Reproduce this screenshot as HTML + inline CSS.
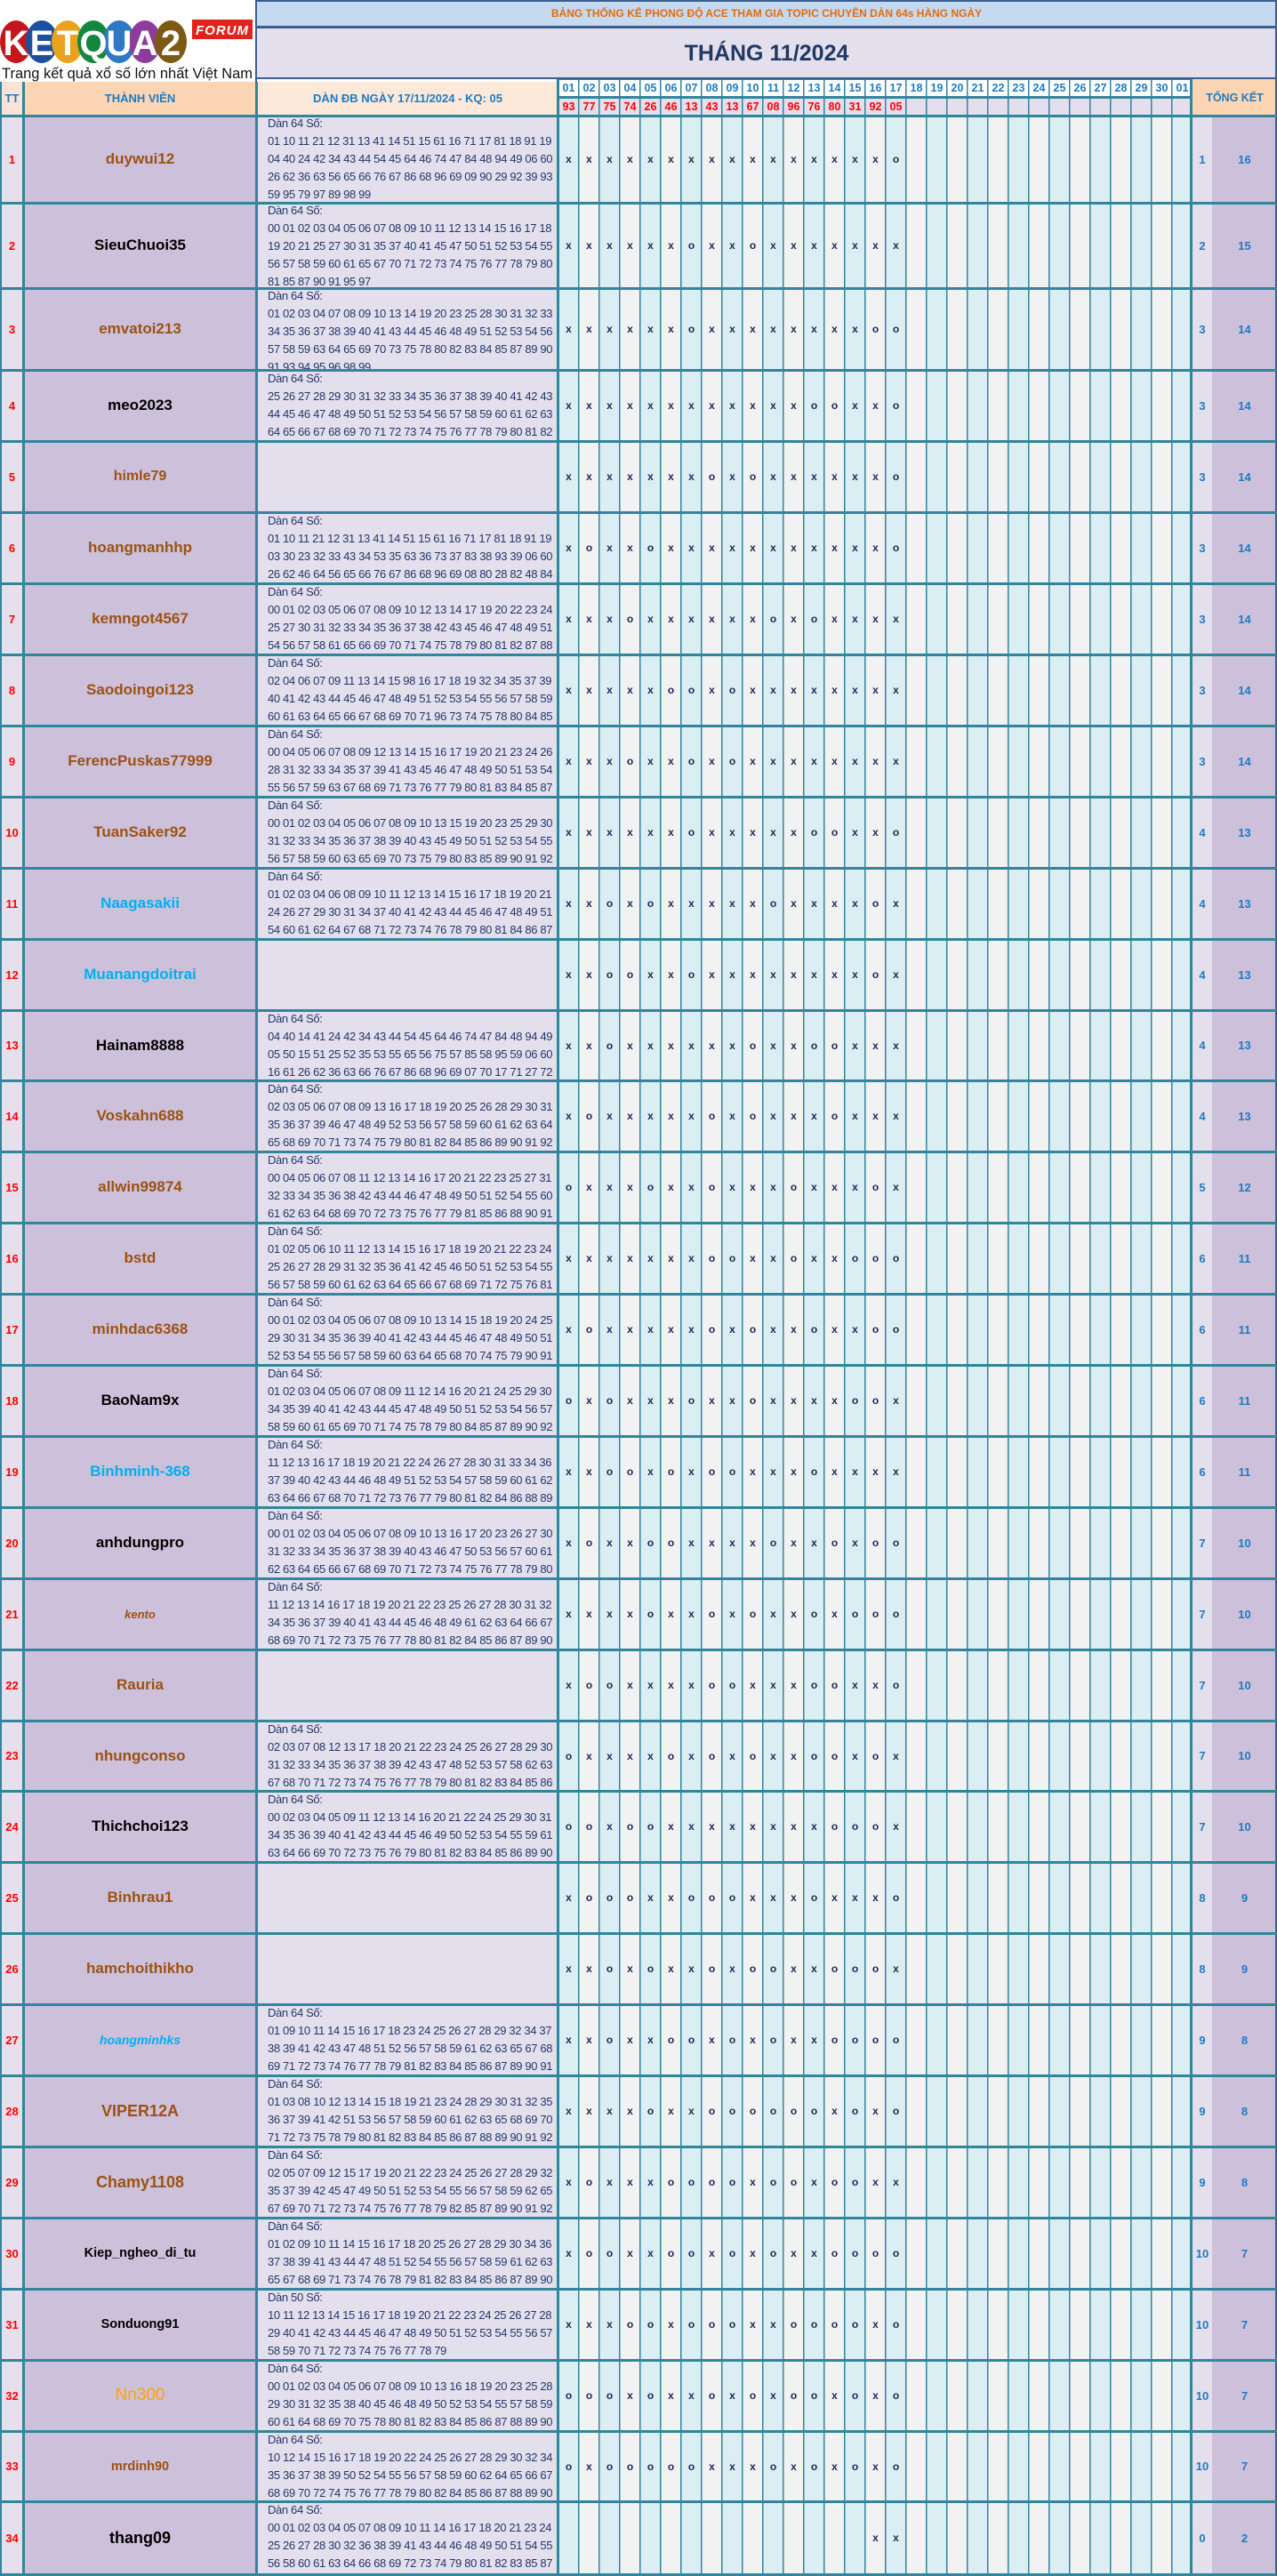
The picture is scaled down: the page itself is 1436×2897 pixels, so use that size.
<!DOCTYPE html>
<html><head><meta charset="utf-8">
<style>
*{box-sizing:border-box;margin:0;padding:0}
body{width:1436px;height:2897px;overflow:hidden;background:#fff;font-family:"Liberation Sans",Arial,sans-serif;position:relative}
.a{position:absolute}
.r{position:absolute;left:0;width:1436px}
.r>div{position:absolute;top:0;bottom:0}
.t{left:0;width:27px;display:flex;align-items:center;justify-content:center;color:#f00;font-weight:700;font-size:13px}
.n{left:28px;width:259px;display:flex;align-items:center;justify-content:center;font-weight:700;font-size:17px;color:#9c5212;white-space:nowrap}
.n.b{color:#000}.n.c{color:#00b0f0}
.d{left:301px;width:327px;overflow:hidden;font-size:13px;line-height:20px;letter-spacing:-0.35px;color:#22386b;white-space:nowrap}
.x{left:628px;width:713px;display:flex;align-items:center}
.x b{display:block;width:23px;text-align:center;font-weight:700;font-size:12px;color:#1b2a56}
.k{left:1341px;width:22px;display:flex;align-items:center;justify-content:center;color:#1f7bc1;font-weight:700;font-size:13px}
.s{left:1363px;width:73px;display:flex;align-items:center;justify-content:center;color:#1f7bc1;font-weight:700;font-size:13px}
.hl{position:absolute;left:0;width:1436px;height:3px;background:#31859c}
.dh{display:flex;position:absolute;left:628px;width:713px}
.dh span{display:block;width:23px;text-align:center;font-weight:700;font-size:12.5px}
</style></head><body>

<!-- backgrounds -->
<div class="a" style="left:0;top:92px;width:27px;height:38px;background:#fbe4d6"></div>
<div class="a" style="left:27px;top:92px;width:261px;height:38px;background:#fcd5b4"></div>
<div class="a" style="left:288px;top:92px;width:340px;height:38px;background:#fde9d9"></div>
<div class="a" style="left:628px;top:88px;width:713px;height:21px;background:#fff"></div>
<div class="a" style="left:628px;top:109px;width:713px;height:21px;background:#e4dfec"></div>
<div class="a" style="left:1341px;top:88px;width:95px;height:42px;background:#fcd5b4"></div>
<div class="a" style="left:0;top:130px;width:27px;height:2767px;background:#e6e0ec"></div>
<div class="a" style="left:27px;top:130px;width:261px;height:2767px;background:#ccc0da"></div>
<div class="a" style="left:288px;top:130px;width:340px;height:2767px;background:#e4dfec"></div>
<div class="a" style="left:628px;top:130px;width:713px;height:2767px;background:repeating-linear-gradient(90deg,#daeef3 0 23px,#f2f2f2 23px 46px)"></div>
<div class="a" style="left:1341px;top:130px;width:22px;height:2767px;background:#e4dfec"></div>
<div class="a" style="left:1363px;top:130px;width:73px;height:2767px;background:#ccc0da"></div>

<!-- banner & title -->
<div class="a" style="left:288px;top:0;width:1148px;height:30px;background:#c5d9f1"></div>
<div class="a" style="left:288px;top:30px;width:1148px;height:58px;background:#e4dfec"></div>
<div class="a" style="left:290px;top:0;width:1144px;height:29px;line-height:30px;text-align:center;color:#e46c0a;font-weight:700;font-size:12px">BẢNG THỐNG KÊ PHONG ĐỘ ACE THAM GIA TOPIC CHUYÊN DÀN 64s HÀNG NGÀY</div>
<div class="a" style="left:290px;top:32px;width:1144px;height:56px;line-height:56px;text-align:center;color:#1f3864;font-weight:700;font-size:25px">THÁNG 11/2024</div>

<!-- logo -->
<svg class="a" style="left:0;top:0" width="288" height="92" viewBox="0 0 288 92">
<rect width="288" height="92" fill="#fff"/>
<ellipse cx="18" cy="47" rx="18" ry="24" fill="#c4161c"/>
<ellipse cx="47" cy="47" rx="18" ry="24" fill="#1d4f9f"/>
<ellipse cx="76" cy="47" rx="18" ry="24" fill="#e9a21d"/>
<ellipse cx="105" cy="47" rx="18" ry="24" fill="#13883c"/>
<ellipse cx="134" cy="47" rx="18" ry="24" fill="#2f78c4"/>
<ellipse cx="163" cy="47" rx="18" ry="24" fill="#8e3b9e"/>
<ellipse cx="192" cy="47" rx="18" ry="24" fill="#7d5a14"/>
<g fill="#fff" font-family="Liberation Sans,Arial,sans-serif" font-weight="700" font-size="40" text-anchor="middle">
<text x="18" y="62">K</text><text x="47" y="62">E</text><text x="76" y="62">T</text><text x="105" y="62">Q</text><text x="134" y="62">U</text><text x="163" y="62">A</text><text x="192" y="62">2</text>
</g>
<rect x="216" y="22" width="68" height="22" fill="#e2231a"/>
<text x="250" y="39" fill="#fff" font-family="Liberation Sans,Arial,sans-serif" font-weight="700" font-style="italic" font-size="15" text-anchor="middle" letter-spacing="1">FORUM</text>
<text x="2" y="88" fill="#111" font-family="Liberation Sans,Arial,sans-serif" font-size="17" textLength="282" lengthAdjust="spacingAndGlyphs">Trang kết quả xổ số lớn nhất Việt Nam</text>
</svg>

<!-- header row texts -->
<div class="a" style="left:0;top:92px;width:27px;height:38px;line-height:38px;text-align:center;color:#1f7bc1;font-weight:700;font-size:13px">TT</div>
<div class="a" style="left:28px;top:92px;width:259px;height:38px;line-height:38px;text-align:center;color:#1f7bc1;font-weight:700;font-size:13px">THÀNH VIÊN</div>
<div class="a" style="left:290px;top:92px;width:337px;height:38px;line-height:38px;text-align:center;color:#1f7bc1;font-weight:700;font-size:13px">DÀN ĐB NGÀY 17/11/2024 - KQ: 05</div>
<div class="a" style="left:1341px;top:88px;width:95px;height:42px;line-height:44px;text-align:center;color:#1f7bc1;font-weight:700;font-size:12.5px">TỔNG KẾT</div>
<div class="dh" style="top:88px;height:21px;line-height:22px;color:#1f7bc1"><span>01</span><span>02</span><span>03</span><span>04</span><span>05</span><span>06</span><span>07</span><span>08</span><span>09</span><span>10</span><span>11</span><span>12</span><span>13</span><span>14</span><span>15</span><span>16</span><span>17</span><span>18</span><span>19</span><span>20</span><span>21</span><span>22</span><span>23</span><span>24</span><span>25</span><span>26</span><span>27</span><span>28</span><span>29</span><span>30</span><span>01</span></div>
<div class="dh" style="top:109px;height:21px;line-height:23px;color:#f00"><span>93</span><span>77</span><span>75</span><span>74</span><span>26</span><span>46</span><span>13</span><span>43</span><span>13</span><span>67</span><span>08</span><span>96</span><span>76</span><span>80</span><span>31</span><span>92</span><span>05</span></div>

<!-- rows -->
<div class="r" style="top:130px;height:98px"><div class="t">1</div><div class="n">duywui12</div><div class="d" style="top:-1px">Dàn 64 Số:<br>01 10 11 21 12 31 13 41 14 51 15 61 16 71 17 81 18 91 19<br>04 40 24 42 34 43 44 54 45 64 46 74 47 84 48 94 49 06 60<br>26 62 36 63 56 65 66 76 67 86 68 96 69 09 90 29 92 39 93<br>59 95 79 97 89 98 99</div><div class="x"><b>x</b><b>x</b><b>x</b><b>x</b><b>x</b><b>x</b><b>x</b><b>x</b><b>x</b><b>x</b><b>x</b><b>x</b><b>x</b><b>x</b><b>x</b><b>x</b><b>o</b></div><div class="k">1</div><div class="s">16</div></div>

<div class="r" style="top:228px;height:96px"><div class="t">2</div><div class="n b">SieuChuoi35</div><div class="d" style="top:-1px">Dàn 64 Số:<br>00 01 02 03 04 05 06 07 08 09 10 11 12 13 14 15 16 17 18<br>19 20 21 25 27 30 31 35 37 40 41 45 47 50 51 52 53 54 55<br>56 57 58 59 60 61 65 67 70 71 72 73 74 75 76 77 78 79 80<br>81 85 87 90 91 95 97</div><div class="x"><b>x</b><b>x</b><b>x</b><b>x</b><b>x</b><b>x</b><b>o</b><b>x</b><b>x</b><b>o</b><b>x</b><b>x</b><b>x</b><b>x</b><b>x</b><b>x</b><b>x</b></div><div class="k">2</div><div class="s">15</div></div>

<div class="r" style="top:324px;height:92px"><div class="t">3</div><div class="n">emvatoi213</div><div class="d" style="top:-1px">Dàn 64 Số:<br>01 02 03 04 07 08 09 10 13 14 19 20 23 25 28 30 31 32 33<br>34 35 36 37 38 39 40 41 43 44 45 46 48 49 51 52 53 54 56<br>57 58 59 63 64 65 69 70 73 75 78 80 82 83 84 85 87 89 90<br>91 93 94 95 96 98 99</div><div class="x"><b>x</b><b>x</b><b>x</b><b>x</b><b>x</b><b>x</b><b>o</b><b>x</b><b>x</b><b>x</b><b>x</b><b>x</b><b>x</b><b>x</b><b>x</b><b>o</b><b>o</b></div><div class="k">3</div><div class="s">14</div></div>

<div class="r" style="top:416px;height:80px"><div class="t">4</div><div class="n b">meo2023</div><div class="d">Dàn 64 Số:<br>25 26 27 28 29 30 31 32 33 34 35 36 37 38 39 40 41 42 43<br>44 45 46 47 48 49 50 51 52 53 54 56 57 58 59 60 61 62 63<br>64 65 66 67 68 69 70 71 72 73 74 75 76 77 78 79 80 81 82</div><div class="x"><b>x</b><b>x</b><b>x</b><b>x</b><b>x</b><b>x</b><b>x</b><b>x</b><b>x</b><b>x</b><b>x</b><b>x</b><b>o</b><b>o</b><b>x</b><b>x</b><b>o</b></div><div class="k">3</div><div class="s">14</div></div>

<div class="r" style="top:496px;height:80px"><div class="t">5</div><div class="n" style="font-size:16px">himle79</div><div class="x"><b>x</b><b>x</b><b>x</b><b>x</b><b>x</b><b>x</b><b>x</b><b>o</b><b>x</b><b>o</b><b>x</b><b>x</b><b>x</b><b>x</b><b>x</b><b>x</b><b>o</b></div><div class="k">3</div><div class="s">14</div></div>

<div class="r" style="top:576px;height:80px"><div class="t">6</div><div class="n">hoangmanhhp</div><div class="d">Dàn 64 Số:<br>01 10 11 21 12 31 13 41 14 51 15 61 16 71 17 81 18 91 19<br>03 30 23 32 33 43 34 53 35 63 36 73 37 83 38 93 39 06 60<br>26 62 46 64 56 65 66 76 67 86 68 96 69 08 80 28 82 48 84</div><div class="x"><b>x</b><b>o</b><b>x</b><b>x</b><b>o</b><b>x</b><b>x</b><b>x</b><b>x</b><b>x</b><b>x</b><b>x</b><b>x</b><b>x</b><b>x</b><b>x</b><b>o</b></div><div class="k">3</div><div class="s">14</div></div>

<div class="r" style="top:656px;height:80px"><div class="t">7</div><div class="n">kemngot4567</div><div class="d">Dàn 64 Số:<br>00 01 02 03 05 06 07 08 09 10 12 13 14 17 19 20 22 23 24<br>25 27 30 31 32 33 34 35 36 37 38 42 43 45 46 47 48 49 51<br>54 56 57 58 61 65 66 69 70 71 74 75 78 79 80 81 82 87 88</div><div class="x"><b>x</b><b>x</b><b>x</b><b>o</b><b>x</b><b>x</b><b>x</b><b>x</b><b>x</b><b>x</b><b>o</b><b>x</b><b>o</b><b>x</b><b>x</b><b>x</b><b>x</b></div><div class="k">3</div><div class="s">14</div></div>

<div class="r" style="top:736px;height:80px"><div class="t">8</div><div class="n">Saodoingoi123</div><div class="d">Dàn 64 Số:<br>02 04 06 07 09 11 13 14 15 98 16 17 18 19 32 34 35 37 39<br>40 41 42 43 44 45 46 47 48 49 51 52 53 54 55 56 57 58 59<br>60 61 63 64 65 66 67 68 69 70 71 96 73 74 75 78 80 84 85</div><div class="x"><b>x</b><b>x</b><b>x</b><b>x</b><b>x</b><b>o</b><b>o</b><b>x</b><b>o</b><b>x</b><b>x</b><b>x</b><b>x</b><b>x</b><b>x</b><b>x</b><b>x</b></div><div class="k">3</div><div class="s">14</div></div>

<div class="r" style="top:816px;height:80px"><div class="t">9</div><div class="n">FerencPuskas77999</div><div class="d">Dàn 64 Số:<br>00 04 05 06 07 08 09 12 13 14 15 16 17 19 20 21 23 24 26<br>28 31 32 33 34 35 37 39 41 43 45 46 47 48 49 50 51 53 54<br>55 56 57 59 63 67 68 69 71 73 76 77 79 80 81 83 84 85 87</div><div class="x"><b>x</b><b>x</b><b>x</b><b>o</b><b>x</b><b>x</b><b>o</b><b>x</b><b>o</b><b>x</b><b>x</b><b>x</b><b>x</b><b>x</b><b>x</b><b>x</b><b>x</b></div><div class="k">3</div><div class="s">14</div></div>

<div class="r" style="top:896px;height:80px"><div class="t">10</div><div class="n">TuanSaker92</div><div class="d">Dàn 64 Số:<br>00 01 02 03 04 05 06 07 08 09 10 13 15 19 20 23 25 29 30<br>31 32 33 34 35 36 37 38 39 40 43 45 49 50 51 52 53 54 55<br>56 57 58 59 60 63 65 69 70 73 75 79 80 83 85 89 90 91 92</div><div class="x"><b>x</b><b>x</b><b>x</b><b>x</b><b>x</b><b>x</b><b>o</b><b>x</b><b>x</b><b>x</b><b>x</b><b>x</b><b>o</b><b>o</b><b>x</b><b>x</b><b>o</b></div><div class="k">4</div><div class="s">13</div></div>

<div class="r" style="top:976px;height:80px"><div class="t">11</div><div class="n c">Naagasakii</div><div class="d">Dàn 64 Số:<br>01 02 03 04 06 08 09 10 11 12 13 14 15 16 17 18 19 20 21<br>24 26 27 29 30 31 34 37 40 41 42 43 44 45 46 47 48 49 51<br>54 60 61 62 64 67 68 71 72 73 74 76 78 79 80 81 84 86 87</div><div class="x"><b>x</b><b>x</b><b>o</b><b>x</b><b>o</b><b>x</b><b>x</b><b>x</b><b>x</b><b>x</b><b>o</b><b>x</b><b>x</b><b>x</b><b>x</b><b>o</b><b>x</b></div><div class="k">4</div><div class="s">13</div></div>

<div class="r" style="top:1056px;height:80px"><div class="t">12</div><div class="n c">Muanangdoitrai</div><div class="x"><b>x</b><b>x</b><b>o</b><b>o</b><b>x</b><b>x</b><b>o</b><b>x</b><b>x</b><b>x</b><b>x</b><b>x</b><b>x</b><b>x</b><b>x</b><b>o</b><b>x</b></div><div class="k">4</div><div class="s">13</div></div>

<div class="r" style="top:1136px;height:79px"><div class="t">13</div><div class="n b">Hainam8888</div><div class="d">Dàn 64 Số:<br>04 40 14 41 24 42 34 43 44 54 45 64 46 74 47 84 48 94 49<br>05 50 15 51 25 52 35 53 55 65 56 75 57 85 58 95 59 06 60<br>16 61 26 62 36 63 66 76 67 86 68 96 69 07 70 17 71 27 72</div><div class="x"><b>x</b><b>x</b><b>o</b><b>x</b><b>x</b><b>x</b><b>x</b><b>x</b><b>x</b><b>o</b><b>x</b><b>x</b><b>o</b><b>o</b><b>x</b><b>x</b><b>x</b></div><div class="k">4</div><div class="s">13</div></div>

<div class="r" style="top:1215px;height:80px"><div class="t">14</div><div class="n">Voskahn688</div><div class="d">Dàn 64 Số:<br>02 03 05 06 07 08 09 13 16 17 18 19 20 25 26 28 29 30 31<br>35 36 37 39 46 47 48 49 52 53 56 57 58 59 60 61 62 63 64<br>65 68 69 70 71 73 74 75 79 80 81 82 84 85 86 89 90 91 92</div><div class="x"><b>x</b><b>o</b><b>x</b><b>x</b><b>x</b><b>x</b><b>x</b><b>o</b><b>x</b><b>o</b><b>x</b><b>x</b><b>x</b><b>o</b><b>x</b><b>x</b><b>x</b></div><div class="k">4</div><div class="s">13</div></div>

<div class="r" style="top:1295px;height:80px"><div class="t">15</div><div class="n">allwin99874</div><div class="d">Dàn 64 Số:<br>00 04 05 06 07 08 11 12 13 14 16 17 20 21 22 23 25 27 31<br>32 33 34 35 36 38 42 43 44 46 47 48 49 50 51 52 54 55 60<br>61 62 63 64 68 69 70 72 73 75 76 77 79 81 85 86 88 90 91</div><div class="x"><b>o</b><b>x</b><b>x</b><b>x</b><b>o</b><b>x</b><b>x</b><b>o</b><b>x</b><b>x</b><b>x</b><b>o</b><b>x</b><b>x</b><b>x</b><b>o</b><b>x</b></div><div class="k">5</div><div class="s">12</div></div>

<div class="r" style="top:1375px;height:80px"><div class="t">16</div><div class="n">bstd</div><div class="d">Dàn 64 Số:<br>01 02 05 06 10 11 12 13 14 15 16 17 18 19 20 21 22 23 24<br>25 26 27 28 29 31 32 35 36 41 42 45 46 50 51 52 53 54 55<br>56 57 58 59 60 61 62 63 64 65 66 67 68 69 71 72 75 76 81</div><div class="x"><b>x</b><b>x</b><b>x</b><b>x</b><b>x</b><b>x</b><b>x</b><b>o</b><b>o</b><b>x</b><b>x</b><b>o</b><b>x</b><b>x</b><b>o</b><b>o</b><b>o</b></div><div class="k">6</div><div class="s">11</div></div>

<div class="r" style="top:1455px;height:80px"><div class="t">17</div><div class="n">minhdac6368</div><div class="d">Dàn 64 Số:<br>00 01 02 03 04 05 06 07 08 09 10 13 14 15 18 19 20 24 25<br>29 30 31 34 35 36 39 40 41 42 43 44 45 46 47 48 49 50 51<br>52 53 54 55 56 57 58 59 60 63 64 65 68 70 74 75 79 90 91</div><div class="x"><b>x</b><b>o</b><b>x</b><b>x</b><b>x</b><b>x</b><b>x</b><b>o</b><b>x</b><b>o</b><b>x</b><b>x</b><b>o</b><b>x</b><b>x</b><b>o</b><b>o</b></div><div class="k">6</div><div class="s">11</div></div>

<div class="r" style="top:1535px;height:80px"><div class="t">18</div><div class="n b">BaoNam9x</div><div class="d">Dàn 64 Số:<br>01 02 03 04 05 06 07 08 09 11 12 14 16 20 21 24 25 29 30<br>34 35 39 40 41 42 43 44 45 47 48 49 50 51 52 53 54 56 57<br>58 59 60 61 65 69 70 71 74 75 78 79 80 84 85 87 89 90 92</div><div class="x"><b>o</b><b>x</b><b>o</b><b>x</b><b>x</b><b>x</b><b>o</b><b>x</b><b>x</b><b>o</b><b>x</b><b>x</b><b>x</b><b>x</b><b>o</b><b>o</b><b>x</b></div><div class="k">6</div><div class="s">11</div></div>

<div class="r" style="top:1615px;height:80px"><div class="t">19</div><div class="n c">Binhminh-368</div><div class="d">Dàn 64 Số:<br>11 12 13 16 17 18 19 20 21 22 24 26 27 28 30 31 33 34 36<br>37 39 40 42 43 44 46 48 49 51 52 53 54 57 58 59 60 61 62<br>63 64 66 67 68 70 71 72 73 76 77 79 80 81 82 84 86 88 89</div><div class="x"><b>x</b><b>x</b><b>o</b><b>o</b><b>x</b><b>o</b><b>x</b><b>o</b><b>o</b><b>x</b><b>x</b><b>x</b><b>o</b><b>x</b><b>x</b><b>x</b><b>x</b></div><div class="k">6</div><div class="s">11</div></div>

<div class="r" style="top:1695px;height:80px"><div class="t">20</div><div class="n b">anhdungpro</div><div class="d">Dàn 64 Số:<br>00 01 02 03 04 05 06 07 08 09 10 13 16 17 20 23 26 27 30<br>31 32 33 34 35 36 37 38 39 40 43 46 47 50 53 56 57 60 61<br>62 63 64 65 66 67 68 69 70 71 72 73 74 75 76 77 78 79 80</div><div class="x"><b>x</b><b>o</b><b>x</b><b>x</b><b>o</b><b>o</b><b>x</b><b>x</b><b>x</b><b>x</b><b>o</b><b>x</b><b>x</b><b>o</b><b>x</b><b>o</b><b>o</b></div><div class="k">7</div><div class="s">10</div></div>

<div class="r" style="top:1775px;height:80px"><div class="t">21</div><div class="n" style="font-size:13px;font-style:italic">kento</div><div class="d">Dàn 64 Số:<br>11 12 13 14 16 17 18 19 20 21 22 23 25 26 27 28 30 31 32<br>34 35 36 37 39 40 41 43 44 45 46 48 49 61 62 63 64 66 67<br>68 69 70 71 72 73 75 76 77 78 80 81 82 84 85 86 87 89 90</div><div class="x"><b>x</b><b>x</b><b>x</b><b>x</b><b>o</b><b>x</b><b>x</b><b>o</b><b>x</b><b>o</b><b>x</b><b>x</b><b>o</b><b>x</b><b>o</b><b>o</b><b>o</b></div><div class="k">7</div><div class="s">10</div></div>

<div class="r" style="top:1855px;height:80px"><div class="t">22</div><div class="n">Rauria</div><div class="x"><b>x</b><b>o</b><b>o</b><b>x</b><b>x</b><b>x</b><b>x</b><b>o</b><b>o</b><b>x</b><b>x</b><b>x</b><b>o</b><b>o</b><b>x</b><b>x</b><b>o</b></div><div class="k">7</div><div class="s">10</div></div>

<div class="r" style="top:1935px;height:79px"><div class="t">23</div><div class="n">nhungconso</div><div class="d">Dàn 64 Số:<br>02 03 07 08 12 13 17 18 20 21 22 23 24 25 26 27 28 29 30<br>31 32 33 34 35 36 37 38 39 42 43 47 48 52 53 57 58 62 63<br>67 68 70 71 72 73 74 75 76 77 78 79 80 81 82 83 84 85 86</div><div class="x"><b>o</b><b>x</b><b>x</b><b>x</b><b>x</b><b>o</b><b>x</b><b>o</b><b>x</b><b>o</b><b>x</b><b>x</b><b>o</b><b>o</b><b>x</b><b>o</b><b>x</b></div><div class="k">7</div><div class="s">10</div></div>

<div class="r" style="top:2014px;height:80px"><div class="t">24</div><div class="n b">Thichchoi123</div><div class="d">Dàn 64 Số:<br>00 02 03 04 05 09 11 12 13 14 16 20 21 22 24 25 29 30 31<br>34 35 36 39 40 41 42 43 44 45 46 49 50 52 53 54 55 59 61<br>63 64 66 69 70 72 73 75 76 79 80 81 82 83 84 85 86 89 90</div><div class="x"><b>o</b><b>o</b><b>x</b><b>o</b><b>o</b><b>x</b><b>x</b><b>x</b><b>x</b><b>x</b><b>x</b><b>x</b><b>x</b><b>o</b><b>o</b><b>o</b><b>x</b></div><div class="k">7</div><div class="s">10</div></div>

<div class="r" style="top:2094px;height:80px"><div class="t">25</div><div class="n">Binhrau1</div><div class="x"><b>x</b><b>o</b><b>o</b><b>o</b><b>x</b><b>x</b><b>o</b><b>o</b><b>o</b><b>x</b><b>x</b><b>x</b><b>o</b><b>x</b><b>x</b><b>x</b><b>o</b></div><div class="k">8</div><div class="s">9</div></div>

<div class="r" style="top:2174px;height:80px"><div class="t">26</div><div class="n">hamchoithikho</div><div class="x"><b>x</b><b>x</b><b>o</b><b>x</b><b>o</b><b>x</b><b>x</b><b>o</b><b>x</b><b>o</b><b>o</b><b>x</b><b>x</b><b>o</b><b>o</b><b>o</b><b>x</b></div><div class="k">8</div><div class="s">9</div></div>

<div class="r" style="top:2254px;height:80px"><div class="t">27</div><div class="n c" style="font-size:14px;font-style:italic">hoangminhks</div><div class="d">Dàn 64 Số:<br>01 09 10 11 14 15 16 17 18 23 24 25 26 27 28 29 32 34 37<br>38 39 41 42 43 47 48 51 52 56 57 58 59 61 62 63 65 67 68<br>69 71 72 73 74 76 77 78 79 81 82 83 84 85 86 87 89 90 91</div><div class="x"><b>x</b><b>x</b><b>o</b><b>x</b><b>x</b><b>o</b><b>o</b><b>x</b><b>o</b><b>x</b><b>o</b><b>x</b><b>x</b><b>o</b><b>o</b><b>o</b><b>o</b></div><div class="k">9</div><div class="s">8</div></div>

<div class="r" style="top:2334px;height:80px"><div class="t">28</div><div class="n" style="font-size:18px">VIPER12A</div><div class="d">Dàn 64 Số:<br>01 03 08 10 12 13 14 15 18 19 21 23 24 28 29 30 31 32 35<br>36 37 39 41 42 51 53 56 57 58 59 60 61 62 63 65 68 69 70<br>71 72 73 75 78 79 80 81 82 83 84 85 86 87 88 89 90 91 92</div><div class="x"><b>x</b><b>x</b><b>x</b><b>x</b><b>o</b><b>x</b><b>x</b><b>o</b><b>o</b><b>o</b><b>o</b><b>o</b><b>o</b><b>x</b><b>o</b><b>x</b><b>o</b></div><div class="k">9</div><div class="s">8</div></div>

<div class="r" style="top:2414px;height:80px"><div class="t">29</div><div class="n" style="font-size:18px">Chamy1108</div><div class="d">Dàn 64 Số:<br>02 05 07 09 12 15 17 19 20 21 22 23 24 25 26 27 28 29 32<br>35 37 39 42 45 47 49 50 51 52 53 54 55 56 57 58 59 62 65<br>67 69 70 71 72 73 74 75 76 77 78 79 82 85 87 89 90 91 92</div><div class="x"><b>x</b><b>o</b><b>x</b><b>x</b><b>x</b><b>o</b><b>o</b><b>o</b><b>o</b><b>x</b><b>o</b><b>o</b><b>x</b><b>o</b><b>o</b><b>x</b><b>x</b></div><div class="k">9</div><div class="s">8</div></div>

<div class="r" style="top:2494px;height:80px"><div class="t">30</div><div class="n b" style="font-size:14.5px">Kiep_ngheo_di_tu</div><div class="d">Dàn 64 Số:<br>01 02 09 10 11 14 15 16 17 18 20 25 26 27 28 29 30 34 36<br>37 38 39 41 43 44 47 48 51 52 54 55 56 57 58 59 61 62 63<br>65 67 68 69 71 73 74 76 78 79 81 82 83 84 85 86 87 89 90</div><div class="x"><b>x</b><b>o</b><b>o</b><b>x</b><b>x</b><b>o</b><b>o</b><b>x</b><b>o</b><b>x</b><b>o</b><b>x</b><b>x</b><b>o</b><b>o</b><b>o</b><b>o</b></div><div class="k">10</div><div class="s">7</div></div>

<div class="r" style="top:2574px;height:80px"><div class="t">31</div><div class="n b" style="font-size:14.5px">Sonduong91</div><div class="d">Dàn 50 Số:<br>10 11 12 13 14 15 16 17 18 19 20 21 22 23 24 25 26 27 28<br>29 40 41 42 43 44 45 46 47 48 49 50 51 52 53 54 55 56 57<br>58 59 70 71 72 73 74 75 76 77 78 79</div><div class="x"><b>x</b><b>x</b><b>x</b><b>o</b><b>o</b><b>x</b><b>o</b><b>o</b><b>o</b><b>x</b><b>x</b><b>o</b><b>o</b><b>o</b><b>o</b><b>x</b><b>o</b></div><div class="k">10</div><div class="s">7</div></div>

<div class="r" style="top:2654px;height:80px"><div class="t">32</div><div class="n" style="color:#ffa500;font-weight:400;font-size:19px">Nn300</div><div class="d">Dàn 64 Số:<br>00 01 02 03 04 05 06 07 08 09 10 13 16 18 19 20 23 25 28<br>29 30 31 32 35 38 40 45 46 48 49 50 52 53 54 55 57 58 59<br>60 61 64 68 69 70 75 78 80 81 82 83 84 85 86 87 88 89 90</div><div class="x"><b>o</b><b>o</b><b>o</b><b>x</b><b>o</b><b>x</b><b>x</b><b>o</b><b>x</b><b>o</b><b>x</b><b>o</b><b>o</b><b>x</b><b>o</b><b>x</b><b>o</b></div><div class="k">10</div><div class="s">7</div></div>

<div class="r" style="top:2734px;height:79px"><div class="t">33</div><div class="n" style="font-size:14.5px">mrdinh90</div><div class="d">Dàn 64 Số:<br>10 12 14 15 16 17 18 19 20 22 24 25 26 27 28 29 30 32 34<br>35 36 37 38 39 50 52 54 55 56 57 58 59 60 62 64 65 66 67<br>68 69 70 72 74 75 76 77 78 79 80 82 84 85 86 87 88 89 90</div><div class="x"><b>o</b><b>x</b><b>o</b><b>o</b><b>o</b><b>o</b><b>o</b><b>x</b><b>x</b><b>x</b><b>o</b><b>x</b><b>o</b><b>x</b><b>o</b><b>x</b><b>o</b></div><div class="k">10</div><div class="s">7</div></div>

<div class="r" style="top:2813px;height:82px"><div class="t">34</div><div class="n b" style="font-size:18px">thang09</div><div class="d">Dàn 64 Số:<br>00 01 02 03 04 05 07 08 09 10 11 14 16 17 18 20 21 23 24<br>25 26 27 28 30 32 36 38 39 41 43 44 46 48 49 50 51 54 55<br>56 58 60 61 63 64 66 68 69 72 73 74 79 80 81 82 83 85 87</div><div class="x"><b></b><b></b><b></b><b></b><b></b><b></b><b></b><b></b><b></b><b></b><b></b><b></b><b></b><b></b><b></b><b>x</b><b>x</b></div><div class="k">0</div><div class="s">2</div></div>

<!-- grid lines -->
<div class="a" style="left:627px;top:88px;width:714px;height:2807px;background:repeating-linear-gradient(90deg,#31859c 0 1.5px,transparent 1.5px 23px)"></div>
<div class="a" style="left:0;top:92px;width:1.5px;height:2805px;background:#31859c"></div>
<div class="a" style="left:25px;top:92px;width:3px;height:2805px;background:#31859c"></div>
<div class="a" style="left:287px;top:92px;width:3px;height:2805px;background:#31859c"></div>
<div class="a" style="left:626px;top:88px;width:3px;height:2809px;background:#31859c"></div>
<div class="a" style="left:1338px;top:88px;width:3px;height:2809px;background:#31859c"></div>
<div class="a" style="left:628px;top:88px;width:713px;height:2px;background:#31859c"></div>
<div class="a" style="left:628px;top:108px;width:713px;height:3px;background:#31859c"></div>
<!-- header navy borders -->
<div class="a" style="left:288px;top:0;width:1148px;height:2px;background:#3b5e91"></div>
<div class="a" style="left:288px;top:29px;width:1148px;height:3px;background:#3b5e91"></div>
<div class="a" style="left:288px;top:87px;width:1148px;height:2px;background:#3b5e91"></div>
<div class="a" style="left:287px;top:0;width:2px;height:92px;background:#3b5e91"></div>
<div class="a" style="left:1434px;top:0;width:2px;height:2897px;background:#3b5e91"></div>
<!-- horizontal row lines -->
<div class="hl" style="top:128.5px"></div>
<div class="hl" style="top:226.5px"></div>
<div class="hl" style="top:322.5px"></div>
<div class="hl" style="top:414.5px"></div>
<div class="hl" style="top:494.5px"></div>
<div class="hl" style="top:574.5px"></div>
<div class="hl" style="top:654.5px"></div>
<div class="hl" style="top:734.5px"></div>
<div class="hl" style="top:814.5px"></div>
<div class="hl" style="top:894.5px"></div>
<div class="hl" style="top:974.5px"></div>
<div class="hl" style="top:1054.5px"></div>
<div class="hl" style="top:1134.5px"></div>
<div class="hl" style="top:1213.5px"></div>
<div class="hl" style="top:1293.5px"></div>
<div class="hl" style="top:1373.5px"></div>
<div class="hl" style="top:1453.5px"></div>
<div class="hl" style="top:1533.5px"></div>
<div class="hl" style="top:1613.5px"></div>
<div class="hl" style="top:1693.5px"></div>
<div class="hl" style="top:1773.5px"></div>
<div class="hl" style="top:1853.5px"></div>
<div class="hl" style="top:1933.5px"></div>
<div class="hl" style="top:2012.5px"></div>
<div class="hl" style="top:2092.5px"></div>
<div class="hl" style="top:2172.5px"></div>
<div class="hl" style="top:2252.5px"></div>
<div class="hl" style="top:2332.5px"></div>
<div class="hl" style="top:2412.5px"></div>
<div class="hl" style="top:2492.5px"></div>
<div class="hl" style="top:2572.5px"></div>
<div class="hl" style="top:2652.5px"></div>
<div class="hl" style="top:2732.5px"></div>
<div class="hl" style="top:2811.5px"></div>
<div class="hl" style="top:2894px"></div>
</body></html>
